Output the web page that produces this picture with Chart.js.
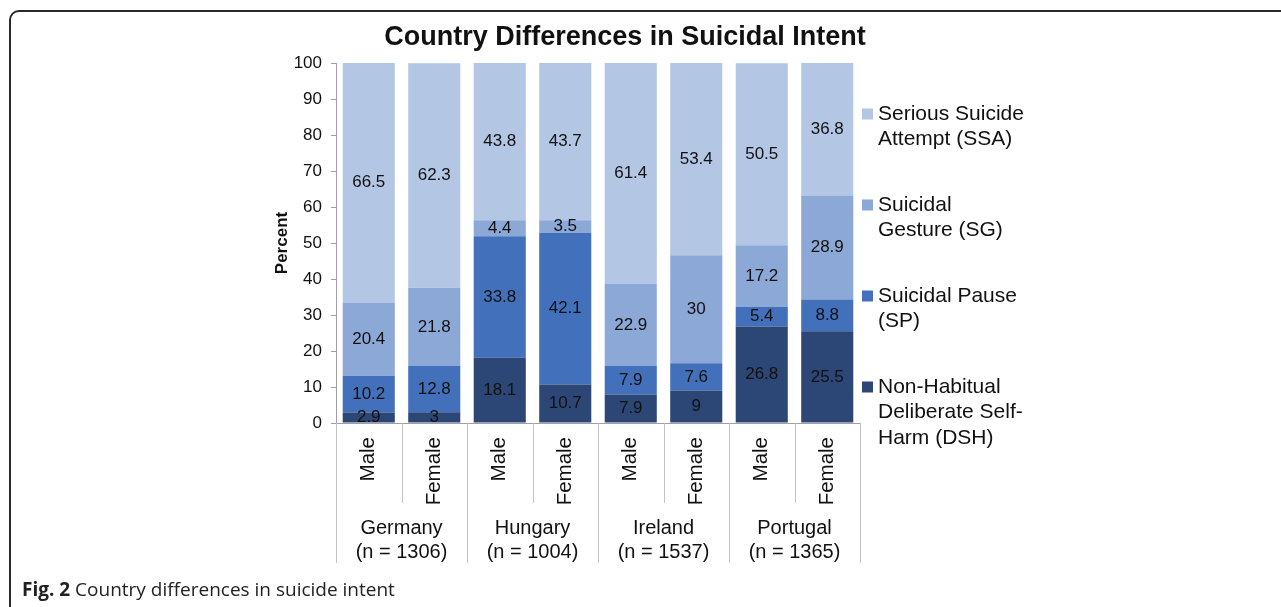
<!DOCTYPE html>
<html>
<head>
<meta charset="utf-8">
<title>Country Differences in Suicidal Intent</title>
<script src="https://cdn.jsdelivr.net/npm/chart.js@4.4.1/dist/chart.umd.min.js"></script>
<style>
  html, body { margin: 0; padding: 0; background: #fff; }
  body { width: 1281px; height: 607px; position: relative; overflow: hidden; }
  #frame {
    position: absolute; left: 9px; top: 10px; width: 1320px; height: 640px;
    border: 2px solid #2a2a2a; border-radius: 10px; box-sizing: border-box;
  }
  #wrap { position: absolute; left: 0; top: 0; width: 1281px; height: 607px; }
  #caption {
    position: absolute; left: 22px; top: 576px;
    font-family: "Open Sans", sans-serif; font-size: 19px; color: #222;
  }
</style>
</head>
<body>
<div id="frame"></div>
<div id="wrap"><canvas id="chart"></canvas></div>
<div id="caption"><b>Fig. 2</b> Country differences in suicide intent</div>
<script>
//Data//
const genders = ["Male", "Female", "Male", "Female", "Male", "Female", "Male", "Female"];
const countries = [
  ["Germany", "(n = 1306)"],
  ["Hungary", "(n = 1004)"],
  ["Ireland", "(n = 1537)"],
  ["Portugal", "(n = 1365)"]
];
const yTicks = [0, 10, 20, 30, 40, 50, 60, 70, 80, 90, 100];

// stacked bottom to top
const dsh = [2.9, 3, 18.1, 10.7, 7.9, 9, 26.8, 25.5];
const sp = [10.2, 12.8, 33.8, 42.1, 7.9, 7.6, 5.4, 8.8];
const sg = [20.4, 21.8, 4.4, 3.5, 22.9, 30, 17.2, 28.9];
const ssa = [66.5, 62.3, 43.8, 43.7, 61.4, 53.4, 50.5, 36.8];

const dshName = ["Non-Habitual", "Deliberate Self-", "Harm (DSH)"];
const spName = ["Suicidal Pause", "(SP)"];
const sgName = ["Suicidal", "Gesture (SG)"];
const ssaName = ["Serious Suicide", "Attempt (SSA)"];
//Akhir Data//

Chart.defaults.font.family = '"Liberation Sans", Arial, sans-serif';
Chart.defaults.color = "#111";

// angka di tengah tiap segmen
const valueLabels = {
  id: "valueLabels",
  afterDatasetsDraw(chart) {
    const ctx = chart.ctx;
    ctx.save();
    ctx.font = '17px "Liberation Sans", Arial, sans-serif';
    ctx.fillStyle = "#111";
    ctx.textAlign = "center";
    ctx.textBaseline = "middle";
    chart.data.datasets.forEach((ds, i) => {
      chart.getDatasetMeta(i).data.forEach((bar, j) => {
        const p = bar.getCenterPoint();
        ctx.fillText(String(ds.data[j]), p.x, p.y);
      });
    });
    ctx.restore();
  }
};

// garis pemisah dan nama negara di bawah sumbu x
const groupAxis = {
  id: "groupAxis",
  afterDraw(chart) {
    const x = chart.scales.x;
    const ctx = chart.ctx;
    const w = x.getPixelForValue(1) - x.getPixelForValue(0);
    ctx.save();
    ctx.strokeStyle = "#c4c4c4";
    ctx.lineWidth = 1;
    for (let i = 0; i <= genders.length; i++) {
      const px = Math.round(x.getPixelForValue(i) - w / 2) + 0.5;
      const bottom = i % 2 === 0 ? x.top + 140 : x.top + 80;
      ctx.beginPath();
      ctx.moveTo(px, x.top);
      ctx.lineTo(px, bottom);
      ctx.stroke();
    }
    ctx.font = '20px "Liberation Sans", Arial, sans-serif';
    ctx.fillStyle = "#111";
    ctx.textAlign = "center";
    ctx.textBaseline = "middle";
    countries.forEach((c, g) => {
      const cx = (x.getPixelForValue(2 * g) + x.getPixelForValue(2 * g + 1)) / 2;
      ctx.fillText(c[0], cx, x.top + 105);
      ctx.fillText(c[1], cx, x.top + 129);
    });
    ctx.restore();
  }
};

// legenda di kanan, teks beberapa baris
const sideLegend = {
  id: "sideLegend",
  afterDraw(chart) {
    const ctx = chart.ctx;
    const area = chart.chartArea;
    const left = area.right + 2;
    let y = area.top + 51;
    ctx.save();
    ctx.font = '21px "Liberation Sans", Arial, sans-serif';
    ctx.textAlign = "left";
    ctx.textBaseline = "middle";
    for (let i = chart.data.datasets.length - 1; i >= 0; i--) {
      const ds = chart.data.datasets[i];
      ctx.fillStyle = ds.backgroundColor;
      ctx.fillRect(left, y - 5.5, 11, 11);
      ctx.fillStyle = "#111";
      ds.legendLines.forEach((t, k) => ctx.fillText(t, left + 16, y + k * 25.4));
      y += 91;
    }
    ctx.restore();
  }
};

const data = {
  labels: genders,
  datasets: [
    { label: dshName.join(" "), legendLines: dshName, data: dsh, backgroundColor: "#2c4676" },
    { label: spName.join(" "), legendLines: spName, data: sp, backgroundColor: "#4270ba" },
    { label: sgName.join(" "), legendLines: sgName, data: sg, backgroundColor: "#8ca8d6" },
    { label: ssaName.join(" "), legendLines: ssaName, data: ssa, backgroundColor: "#b3c6e4" }
  ]
};

const config = {
  type: "bar",
  data: data,
  options: {
    responsive: true,
    maintainAspectRatio: false,
    animation: false,
    categoryPercentage: 1,
    barPercentage: 0.795,
    layout: {
      padding: { left: 271.7, right: 302.7, top: 21.8, bottom: 34 }
    },
    scales: {
      x: {
        stacked: true,
        grid: { display: false },
        border: { color: "#a0a0a0" },
        ticks: {
          minRotation: 90,
          maxRotation: 90,
          autoSkip: false,
          padding: 6,
          color: "#111",
          font: { size: 20.5 }
        },
        afterFit(scale) {
          scale.height = 150;
        }
      },
      y: {
        stacked: true,
        min: 0,
        max: 100,
        afterBuildTicks(scale) {
          scale.ticks = yTicks.map((v) => ({ value: v }));
        },
        ticks: { padding: 9, color: "#111", font: { size: 17 } },
        grid: { drawOnChartArea: false, tickLength: 5, color: "#a0a0a0" },
        border: { color: "#a0a0a0" },
        title: {
          display: true,
          text: "Percent",
          color: "#111",
          font: { size: 17, weight: "bold" },
          padding: { top: 0, bottom: 1.5 }
        },
        afterFit(scale) {
          scale.width = 64.3;
        }
      },
      side: {
        type: "linear",
        position: "right",
        grid: { display: false },
        border: { display: false },
        ticks: { display: false },
        afterFit(scale) {
          scale.width = 118.3;
        }
      }
    },
    plugins: {
      legend: { display: false },
      tooltip: { enabled: false },
      title: {
        display: true,
        text: "Country Differences in Suicidal Intent",
        color: "#111",
        font: { size: 27, weight: "bold" },
        padding: { top: 0, bottom: 8.8 }
      }
    }
  },
  plugins: [valueLabels, groupAxis, sideLegend]
};

const suicideChart = new Chart(document.getElementById("chart").getContext("2d"), config);
</script>
</body>
</html>
